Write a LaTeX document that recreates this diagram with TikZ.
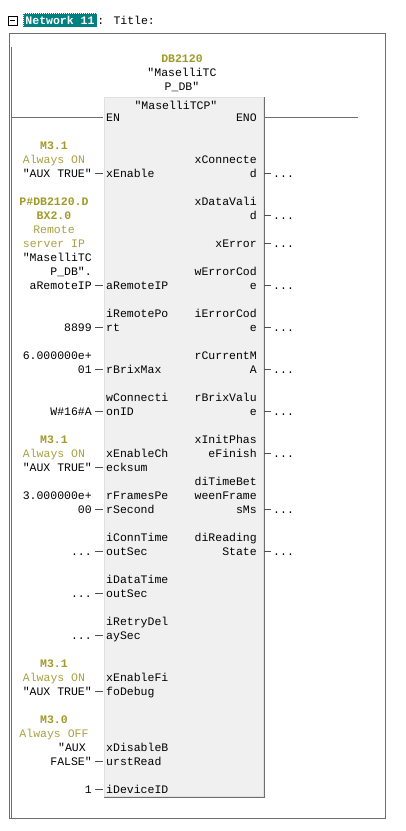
\documentclass[tikz,border=0pt]{standalone}
\usepackage{fontspec}
\newfontfamily\plcmono{Liberation Mono}
\usepackage{xcolor}
\definecolor{PlcOlive}{HTML}{A09A28}
\definecolor{PlcNote}{HTML}{AAA040}
\definecolor{PlcTeal}{HTML}{008080}
\definecolor{PlcFrame}{HTML}{6E6E6E}
\definecolor{PlcWire}{HTML}{505050}
\definecolor{PlcFill}{HTML}{F0F0F0}
\definecolor{PlcEdge}{HTML}{E0E0E0}
\usepackage{tikz}
\usetikzlibrary{positioning}
\newcommand{\plcfont}{\plcmono\fontsize{11.5}{14}\selectfont}

\begin{document}
\begin{tikzpicture}[x=1pt, y=-1pt,
  every node/.style={font=\plcfont, inner ysep=0pt,
                     text height=8.5pt, text depth=0.5pt},
  fold/.style={draw=black, line width=0.8pt, minimum size=9pt, inner sep=0pt},
  netlbl/.style={fill=PlcTeal, draw=white, dash pattern=on 1pt off 1pt,
                 text=white, font=\plcfont\bfseries, inner sep=0pt,
                 minimum width=74pt, minimum height=14pt},
  fb/.style={fill=PlcFill, draw=PlcEdge, line width=1pt, inner sep=0pt,
             minimum width=159pt, minimum height=699pt, anchor=north west},
  addr/.style={text=PlcOlive, font=\plcfont\bfseries, inner xsep=0pt},
  note/.style={text=PlcNote, inner xsep=0pt},
  opr/.style={anchor=east, inner xsep=3pt},
  pinin/.style={anchor=west, inner xsep=3pt},
  pinout/.style={anchor=east, inner xsep=3pt},
  dots/.style={inner xsep=2pt},
  wire/.style={draw=PlcWire, line width=1pt},
  frame/.style={draw=PlcFrame, line width=1pt},
]
\useasboundingbox (0,0) rectangle (406,831);

% network header
\node[fold] (fold) at (12.5,20.5) {};
\draw[line width=0.8pt] ([xshift=2pt]fold.west) -- ([xshift=-2pt]fold.east);
\node[netlbl] (net) at (60,20) {Network 11};
\node[anchor=west, inner sep=0pt] (title) at (net.east) {: Title:};

% frame and power rail
\draw[frame] (9,33) rectangle (385,818);
\coordinate (railtop) at (11,47);
\coordinate (railbot) at (11,818);
\draw[frame] (railtop) -- (railbot);

% instance DB
\node[addr] (db) at (182,58) {DB2120};
\node (db1) at (182,72) {"MaselliTC};
\node (db2) at (182,86) {P\_DB"};

% function block
\node[fb] (fb) at (104,97) {};
\draw[frame] (fb.north east) -- (fb.south east) -- (fb.south west);
\node (fbname) at (176,105.5) {"MaselliTCP"};
\node[pinin] (en) at (103,117.7) {EN};
\node[pinout] (eno) at (260,117.7) {ENO};
\coordinate (enoend) at (358,117.7);
\draw[frame] (railtop |- en) -- (en);
\draw[frame] (fb.east |- eno) -- (enoend);

% inputs
\node[addr] (m31a) at (54,145.7) {M3.1};
\node[note] (ona) at (54,159.7) {Always ON};
\node[opr] (true1) at (95,173.7) {"AUX TRUE"};
\node[pinin] (xenable) at (103,173.7) {xEnable};
\draw[wire] (true1) -- (xenable);

\node[addr] (ipaddr1) at (54,201.7) {P\#DB2120.D};
\node[addr] (ipaddr2) at (54,215.7) {BX2.0};
\node[note] (ipnote1) at (54,229.7) {Remote};
\node[note] (ipnote2) at (54,243.7) {server IP};
\node[opr] (ipsym1) at (95,257.7) {"MaselliTC};
\node[opr] (ipsym2) at (95,271.7) {P\_DB".};
\node[opr] (ipsym) at (95,285.7) {aRemoteIP};
\node[pinin] (aremoteip) at (103,285.7) {aRemoteIP};
\draw[wire] (ipsym) -- (aremoteip);

\node[pinin] (iremoteport1) at (103,313.7) {iRemotePo};
\node[pinin] (iremoteport) at (103,327.7) {rt};
\node[opr] (port) at (95,327.7) {8899};
\draw[wire] (port) -- (iremoteport);

\node[opr] (brixmax1) at (95,355.7) {6.000000e+};
\node[opr] (brixmax) at (95,369.7) {01};
\node[pinin] (rbrixmax) at (103,369.7) {rBrixMax};
\draw[wire] (brixmax) -- (rbrixmax);

\node[pinin] (wconnid1) at (103,397.7) {wConnecti};
\node[pinin] (wconnid) at (103,411.7) {onID};
\node[opr] (connid) at (95,411.7) {W\#16\#A};
\draw[wire] (connid) -- (wconnid);

\node[addr] (m31b) at (54,439.7) {M3.1};
\node[note] (onb) at (54,453.7) {Always ON};
\node[opr] (true2) at (95,467.7) {"AUX TRUE"};
\node[pinin] (xchecksum1) at (103,453.7) {xEnableCh};
\node[pinin] (xchecksum) at (103,467.7) {ecksum};
\draw[wire] (true2) -- (xchecksum);

\node[opr] (fps1) at (95,495.7) {3.000000e+};
\node[opr] (fps) at (95,509.7) {00};
\node[pinin] (rfps1) at (103,495.7) {rFramesPe};
\node[pinin] (rfps) at (103,509.7) {rSecond};
\draw[wire] (fps) -- (rfps);

\node[pinin] (iconn1) at (103,537.7) {iConnTime};
\node[pinin] (iconn) at (103,551.7) {outSec};
\node[opr] (conndots) at (95,551.7) {...};
\draw[wire] (conndots) -- (iconn);

\node[pinin] (idata1) at (103,579.7) {iDataTime};
\node[pinin] (idata) at (103,593.7) {outSec};
\node[opr] (datadots) at (95,593.7) {...};
\draw[wire] (datadots) -- (idata);

\node[pinin] (iretry1) at (103,621.7) {iRetryDel};
\node[pinin] (iretry) at (103,635.7) {aySec};
\node[opr] (retrydots) at (95,635.7) {...};
\draw[wire] (retrydots) -- (iretry);

\node[addr] (m31c) at (54,663.7) {M3.1};
\node[note] (onc) at (54,677.7) {Always ON};
\node[opr] (true3) at (95,691.7) {"AUX TRUE"};
\node[pinin] (xfifo1) at (103,677.7) {xEnableFi};
\node[pinin] (xfifo) at (103,691.7) {foDebug};
\draw[wire] (true3) -- (xfifo);

\node[addr] (m30) at (54,719.7) {M3.0};
\node[note] (off) at (54,733.7) {Always OFF};
\node[opr] (false1) at (89,747.7) {"AUX};
\node[opr] (false) at (95,761.7) {FALSE"};
\node[pinin] (xburst1) at (103,747.7) {xDisableB};
\node[pinin] (xburst) at (103,761.7) {urstRead};
\draw[wire] (false) -- (xburst);

\node[opr] (devid) at (95,789.7) {1};
\node[pinin] (idevice) at (103,789.7) {iDeviceID};
\draw[wire] (devid) -- (idevice);

% outputs
\node[pinout] (xconn1) at (260,159.7) {xConnecte};
\node[pinout] (xconn) at (260,173.7) {d};
\node[dots, right=11pt of xconn] (xconndots) {...};
\draw[wire] (fb.east |- xconn) -- (xconndots);

\node[pinout] (xdata1) at (260,201.7) {xDataVali};
\node[pinout] (xdata) at (260,215.7) {d};
\node[dots, right=11pt of xdata] (xdatadots) {...};
\draw[wire] (fb.east |- xdata) -- (xdatadots);

\node[pinout] (xerror) at (260,243.7) {xError};
\node[dots, right=11pt of xerror] (xerrordots) {...};
\draw[wire] (fb.east |- xerror) -- (xerrordots);

\node[pinout] (werror1) at (260,271.7) {wErrorCod};
\node[pinout] (werror) at (260,285.7) {e};
\node[dots, right=11pt of werror] (werrordots) {...};
\draw[wire] (fb.east |- werror) -- (werrordots);

\node[pinout] (ierror1) at (260,313.7) {iErrorCod};
\node[pinout] (ierror) at (260,327.7) {e};
\node[dots, right=11pt of ierror] (ierrordots) {...};
\draw[wire] (fb.east |- ierror) -- (ierrordots);

\node[pinout] (rcurrent1) at (260,355.7) {rCurrentM};
\node[pinout] (rcurrent) at (260,369.7) {A};
\node[dots, right=11pt of rcurrent] (rcurrentdots) {...};
\draw[wire] (fb.east |- rcurrent) -- (rcurrentdots);

\node[pinout] (rbrixval1) at (260,397.7) {rBrixValu};
\node[pinout] (rbrixval) at (260,411.7) {e};
\node[dots, right=11pt of rbrixval] (rbrixvaldots) {...};
\draw[wire] (fb.east |- rbrixval) -- (rbrixvaldots);

\node[pinout] (xinit1) at (260,439.7) {xInitPhas};
\node[pinout] (xinit) at (260,453.7) {eFinish};
\node[dots, right=11pt of xinit] (xinitdots) {...};
\draw[wire] (fb.east |- xinit) -- (xinitdots);

\node[pinout] (ditime1) at (260,481.7) {diTimeBet};
\node[pinout] (ditime2) at (260,495.7) {weenFrame};
\node[pinout] (ditime) at (260,509.7) {sMs};
\node[dots, right=11pt of ditime] (ditimedots) {...};
\draw[wire] (fb.east |- ditime) -- (ditimedots);

\node[pinout] (direading1) at (260,537.7) {diReading};
\node[pinout] (direading) at (260,551.7) {State};
\node[dots, right=11pt of direading] (direadingdots) {...};
\draw[wire] (fb.east |- direading) -- (direadingdots);
\end{tikzpicture}
\end{document}
